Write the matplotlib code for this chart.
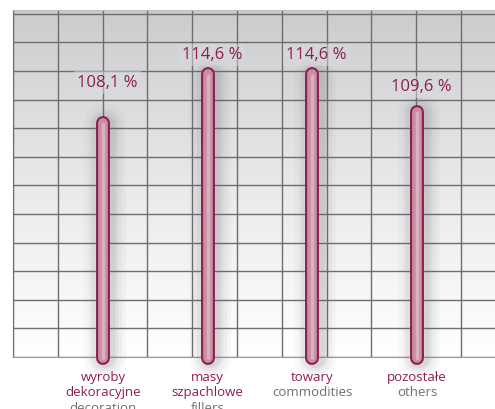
import numpy as np
import matplotlib.pyplot as plt
from matplotlib.colors import LinearSegmentedColormap

categories_pl = ["wyroby\ndekoracyjne", "masy\nszpachlowe", "towary", "pozostałe"]
categories_en = ["decoration", "fillers", "commodities", "others"]
values = [108.1, 114.6, 114.6, 109.6]
value_labels = ["108,1 %", "114,6 %", "114,6 %", "109,6 %"]

MAGENTA = "#8c1d55"
FILL = "#c8909f"
HIGHLIGHT = "#d9b0bd"
GRID = "#6e6e70"
FONT = "Open Sans"

fig = plt.figure(figsize=(4.95, 4.09), dpi=100)
rect = [13 / 495, 52 / 409, 482 / 495, 347 / 409]

# background with gradient and grid
bg = fig.add_axes(rect)
grad = np.linspace(0, 1, 256).reshape(-1, 1)
cmap = LinearSegmentedColormap.from_list("bg", ["#ffffff", "#e8e9ea", "#cbcccd"])
bg.imshow(grad, extent=[0, 1, 0, 1], aspect="auto", origin="lower",
          cmap=cmap, zorder=0)
bg.set_xlim(0, 1)
bg.set_ylim(0, 1)
bg.set_xticks(np.arange(0, 1, 44.8 / 482))
bg.set_yticks(np.arange(0, 1, 28.6 / 347))
bg.grid(True, color=GRID, lw=1.0)
bg.tick_params(length=0, labelbottom=False, labelleft=False)
for side in ["top", "right"]:
    bg.spines[side].set_visible(False)
bg.spines["left"].set_color(GRID)
bg.spines["bottom"].set_color("#9a9a9c")
bg.axhline(1, color="#bdbdbf", lw=1.5, zorder=3)

# bars
ax = fig.add_axes(rect)
ax.patch.set_visible(False)
x = np.arange(len(values))
ymin, ymax = 76.8, 123.2
ax.set_xlim(-0.86, 3.744)
ax.set_ylim(ymin, ymax)
ax.axis("off")

base = ymin - 0.13
label_dy = [26, 11, 11, 15]
for xi, v, lab, dy in zip(x, values, value_labels, label_dy):
    # soft shadow, a bit heavier on the right
    for w, a in [(30, 0.04), (24, 0.06), (19, 0.08), (14, 0.1)]:
        ax.plot([xi + 0.02, xi + 0.02], [base, v - 0.3], color="#6a6a6a",
                lw=w, alpha=a, solid_capstyle="round", clip_on=False, zorder=2)
    ax.plot([xi, xi], [base, v], color=MAGENTA, lw=10,
            solid_capstyle="round", clip_on=False, zorder=3)
    ax.plot([xi, xi], [base, v], color=FILL, lw=7,
            solid_capstyle="round", clip_on=False, zorder=4)
    ax.plot([xi, xi], [base, v - 0.2], color=HIGHLIGHT, lw=2.5,
            solid_capstyle="round", clip_on=False, zorder=5)
    ax.annotate(lab, (xi, v), xytext=(3, dy), textcoords="offset points",
                ha="center", va="baseline", fontsize=12, color=MAGENTA,
                family=FONT,
                bbox=dict(boxstyle="square,pad=0.2", fc="#d8d9db", ec="none",
                          alpha=0.5), zorder=6)

# category labels
for xi, pl, en in zip(x, categories_pl, categories_en):
    ax.annotate(pl, (xi, ymin), xytext=(0, -10), textcoords="offset points",
                ha="center", va="top", fontsize=9.5, color=MAGENTA,
                family=FONT, linespacing=1.2, annotation_clip=False)
    nlines = pl.count("\n") + 1
    ax.annotate(en, (xi, ymin), xytext=(0, -10 - 11.2 * nlines),
                textcoords="offset points", ha="center", va="top",
                fontsize=9.5, color="#707070", family=FONT,
                annotation_clip=False)

fig.savefig("out.png", dpi=100)
